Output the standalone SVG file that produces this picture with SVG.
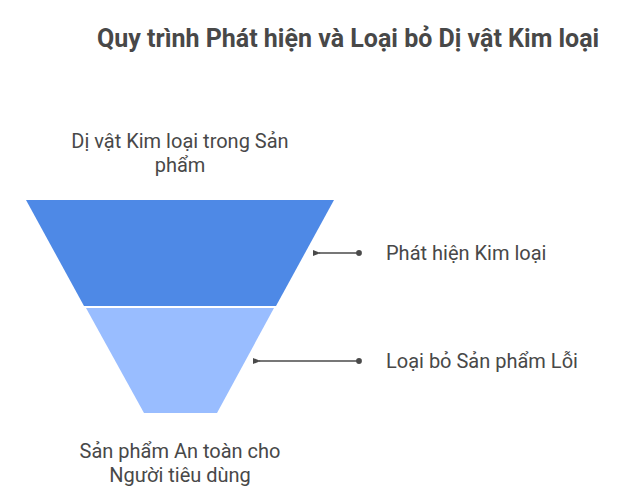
<svg xmlns="http://www.w3.org/2000/svg" width="630" height="504" viewBox="0 0 630 504">
<defs>
<style>
.t{font-family:Roboto,"Liberation Sans",sans-serif;font-size:20px;fill:#484848}
.c{text-anchor:middle}
.title{font-family:Roboto,"Liberation Sans",sans-serif;font-size:25px;font-weight:bold;fill:#484848}
.ln{stroke:#4a4a4a;stroke-width:1.6;fill:none}
</style>
<marker id="ah" viewBox="0 0 10 10" refX="2" refY="5" markerWidth="5" markerHeight="5" orient="auto-start-reverse"><path d="M10,1 L0,5 L10,9 Z" fill="#4a4a4a"/></marker>
<marker id="dot" viewBox="0 0 10 10" refX="5" refY="5" markerWidth="4" markerHeight="4"><circle cx="5" cy="5" r="4.5" fill="#4a4a4a"/></marker>
</defs>
<rect width="630" height="504" fill="#ffffff"/>
<text class="title" x="97" y="47">Quy trình Phát hiện và Loại bỏ Dị vật Kim loại</text>
<g id="stage1">
<polygon points="26,200 334,200 276,306 84,306" fill="#4e89e6"/>
</g>
<g id="stage2">
<polygon points="86,308 274,308 217,413 144,413" fill="#99bdff"/>
</g>
<g id="label-top">
<text class="t c" x="180" y="148">Dị vật Kim loại trong Sản</text>
<text class="t c" x="180" y="172">phẩm</text>
</g>
<g id="label-bottom">
<text class="t c" x="180" y="458">Sản phẩm An toàn cho</text>
<text class="t c" x="180" y="482">Người tiêu dùng</text>
</g>
<g id="label-detect">
<text class="t" x="386" y="260">Phát hiện Kim loại</text>
</g>
<g id="label-remove">
<text class="t" x="386" y="368">Loại bỏ Sản phẩm Lỗi</text>
</g>
<g id="connectors">
<line class="ln" x1="359" y1="253" x2="319" y2="253" marker-start="url(#dot)" marker-end="url(#ah)"/>
<line class="ln" x1="359" y1="361" x2="259" y2="361" marker-start="url(#dot)" marker-end="url(#ah)"/>
</g>
</svg>
